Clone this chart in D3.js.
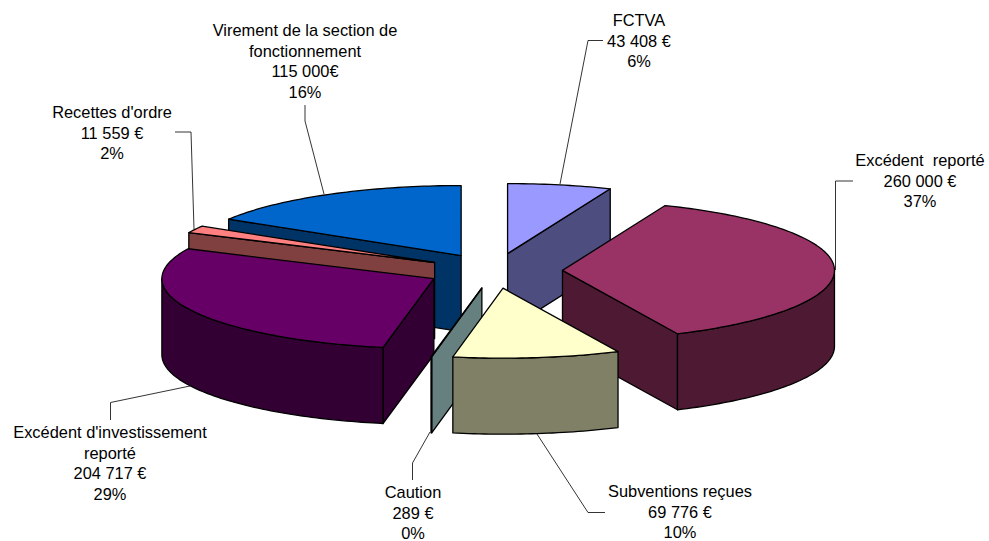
<!DOCTYPE html>
<html>
<head>
<meta charset="utf-8">
<script src="https://cdn.jsdelivr.net/npm/d3@7"></script>
<style>
  html, body { margin: 0; padding: 0; background: #fff; }
  text { font-family: "Liberation Sans", Arial, sans-serif; font-size: 16.4px; fill: #000; }
</style>
</head>
<body>
<div id="chart"></div>
<script>
// 1) Data, in the order of the pie (clockwise from 12 o'clock)
const categories = ["FCTVA", "Excédent reporté", "Subventions reçues", "Caution",
  "Excédent d'investissement reporté", "Recettes d'ordre", "Virement de la section de fonctionnement"];
const values = [43408, 260000, 69776, 289, 204717, 11559, 115000];
const labelLines = [
  ["FCTVA", "43 408 €", "6%"],
  ["Excédent  reporté", "260 000 €", "37%"],
  ["Subventions reçues", "69 776 €", "10%"],
  ["Caution", "289 €", "0%"],
  ["Excédent d'investissement", "reporté", "204 717 €", "29%"],
  ["Recettes d'ordre", "11 559 €", "2%"],
  ["Virement de la section de", "fonctionnement", "115 000€", "16%"]
];

// 2) Colours: top of the slice and its darker side
const topColors  = ["#9999ff", "#993366", "#ffffcc", "#ccffff", "#660066", "#ff8080", "#0066cc"];
const sideColors = ["#4d4d80", "#4d1933", "#808066", "#668080", "#330033", "#804040", "#003366"];

// 3) Layout
const width = 989, height = 541;
const centerX = 494.5, centerY = 270.8, radiusX = 272, radiusY = 70, depth = 76;
const explode = 0.25;
// back to front, so nearer slices cover the ones behind them
const drawOrder = [6, 0, 5, 4, 3, 1, 2];

// label anchor (centre x, first baseline) and leader line of each slice
const labelPos = [
  { x: 639, y: 26,  leader: [[603, 40.5], [588, 40.5], [560, 184]] },
  { x: 920, y: 166, leader: [[853, 181], [835.5, 181], [835.5, 270]] },
  { x: 680, y: 497, leader: [[605, 512.5], [588, 512.5], [537, 434]] },
  { x: 413, y: 498, leader: [[412.5, 480], [412.5, 463], [430, 432]] },
  { x: 110, y: 438, leader: [[110.5, 420], [110.5, 402.5], [190, 386]] },
  { x: 112, y: 118, leader: [[175, 132], [191, 132], [194, 229]] },
  { x: 305, y: 36,  leader: [[305, 105], [305, 121], [324, 194]] }
];
const lineStep = 20.6;

const svg = d3.select("#chart")
  .append("svg")
    .attr("width", width)
    .attr("height", height);

// 4) Scales from the unit circle to the squashed ellipse on screen
const x = d3.scaleLinear().domain([-1, 1]).range([centerX - radiusX, centerX + radiusX]);
const y = d3.scaleLinear().domain([-1, 1]).range([centerY - radiusY, centerY + radiusY]);

const pie = d3.pie().sort(null).value(d => d);
const slices = pie(values);

const line = d3.line().x(d => d[0]).y(d => d[1]);

// unit point at angle a (clockwise from the top), r = distance from the slice apex
function point(s, a, r, drop) {
  const mid = (s.startAngle + s.endAngle) / 2;
  const ux = explode * Math.sin(mid) + r * Math.sin(a);
  const uy = -explode * Math.cos(mid) - r * Math.cos(a);
  return [x(ux), y(uy) + drop];
}

function arcPoints(s, a0, a1, drop) {
  const n = Math.max(2, Math.ceil((a1 - a0) / 0.02));
  return d3.range(n + 1).map(i => point(s, a0 + (a1 - a0) * i / n, 1, drop));
}

function cutFace(s, a) {
  return line([point(s, a, 0, 0), point(s, a, 1, 0), point(s, a, 1, depth), point(s, a, 0, depth)]) + "Z";
}

const g = svg.selectAll("g.slice")
  .data(drawOrder.map(i => ({ s: slices[i], i })))
  .enter()
  .append("g")
    .attr("class", "slice")
    .attr("stroke", "#000")
    .attr("stroke-width", 1.3)
    .attr("stroke-linejoin", "round");

// 5) Cut faces that look towards the viewer
g.each(function(d) {
  const sel = d3.select(this);
  const { s, i } = d;
  if (Math.sin(s.startAngle) < -1e-6) {
    sel.append("path").attr("d", cutFace(s, s.startAngle)).attr("fill", sideColors[i]);
  }
  if (Math.sin(s.endAngle) > 1e-6) {
    sel.append("path").attr("d", cutFace(s, s.endAngle)).attr("fill", sideColors[i]);
  }
  // 6) Outer wall, only the front half of the rim shows
  const a0 = Math.max(s.startAngle, Math.PI / 2);
  const a1 = Math.min(s.endAngle, 3 * Math.PI / 2);
  if (a1 > a0) {
    const pts = arcPoints(s, a0, a1, 0).concat(arcPoints(s, a0, a1, depth).reverse());
    sel.append("path").attr("d", line(pts) + "Z").attr("fill", sideColors[i]);
  }
  // 7) Top of the slice
  const top = [point(s, 0, 0, 0)].concat(arcPoints(s, s.startAngle, s.endAngle, 0));
  sel.append("path").attr("d", line(top) + "Z").attr("fill", topColors[i]);
});

// 8) Leader lines
svg.selectAll("path.leader")
  .data(labelPos)
  .enter()
  .append("path")
    .attr("class", "leader")
    .attr("fill", "none")
    .attr("stroke", "#000")
    .attr("stroke-width", 0.8)
    .attr("d", d => line(d.leader));

// 9) Labels
const labels = svg.selectAll("text.label")
  .data(labelLines)
  .enter()
  .append("text")
    .attr("class", "label")
    .attr("text-anchor", "middle")
    .attr("xml:space", "preserve")
    .attr("transform", (d, i) => `translate(${labelPos[i].x},${labelPos[i].y})`);

labels.selectAll("tspan")
  .data(d => d)
  .enter()
  .append("tspan")
    .attr("x", 0)
    .attr("y", (d, i) => i * lineStep)
    .text(d => d);
</script>
</body>
</html>
